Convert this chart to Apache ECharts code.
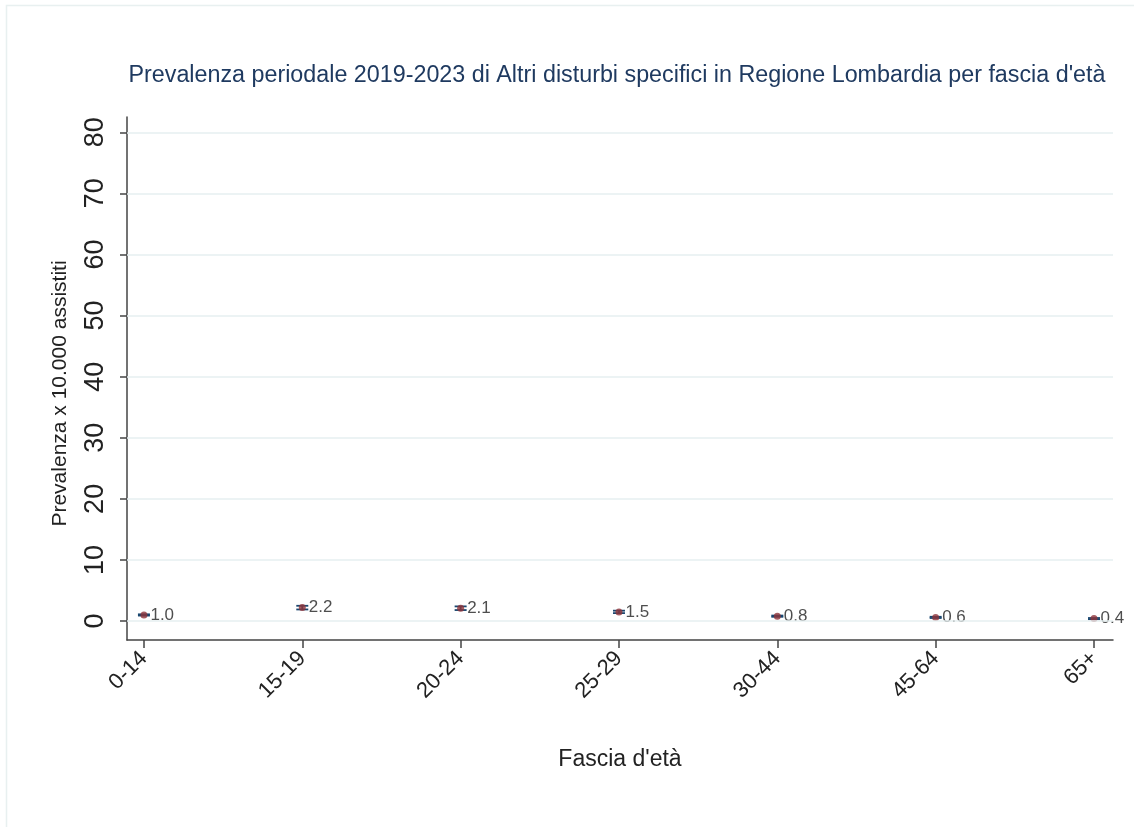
<!DOCTYPE html>
<html>
<head>
<meta charset="utf-8">
<script src="https://cdn.jsdelivr.net/npm/echarts@6/dist/echarts.min.js"></script>
<style>
  html, body { margin: 0; padding: 0; background: #fff; }
  #chart { width: 1134px; height: 827px; }
</style>
</head>
<body>
<div id="chart"></div>
<script>
const ageGroups = ['0-14', '15-19', '20-24', '25-29', '30-44', '45-64', '65+'];
const prevalence = [1.0, 2.2, 2.1, 1.5, 0.8, 0.6, 0.4];
const ciLow = [0.9, 1.9, 1.8, 1.3, 0.7, 0.5, 0.3];
const ciHigh = [1.1, 2.5, 2.4, 1.7, 0.9, 0.7, 0.5];
const yTicks = [0, 10, 20, 30, 40, 50, 60, 70, 80];

const navy = '#1a476f';
const maroon = '#90353b';
const textColor = '#222';

const chart = echarts.init(document.getElementById('chart'));

const points = prevalence.map((v, i) => [i + 1, v]);
const bars = prevalence.map((v, i) => [i + 1, ciLow[i], ciHigh[i]]);

const option = {
  backgroundColor: '#fff',
  animation: false,
  title: {
    text: "Prevalenza periodale 2019-2023 di Altri disturbi specifici in Regione Lombardia per fascia d'età",
    left: 612,
    top: 59,
    textAlign: 'center',
    textStyle: { fontFamily: 'Liberation Sans', fontSize: 23.3, fontWeight: 'normal', color: '#1f3a60' }
  },
  graphic: [{
    type: 'rect',
    shape: { x: 6.5, y: 5.5, width: 1140, height: 830 },
    style: { fill: 'none', stroke: '#e8f0f0', lineWidth: 1.5 },
    silent: true
  }],
  grid: { left: 127, right: 21, top: 117, bottom: 187 },
  xAxis: {
    type: 'value',
    min: 0.893,
    max: 7.12,
    name: "Fascia d'età",
    nameLocation: 'middle',
    nameGap: 108,
    nameTextStyle: { fontFamily: 'Liberation Sans', fontSize: 23, color: textColor },
    axisLine: { show: true, onZero: false, lineStyle: { color: '#444', width: 1.5 } },
    axisTick: { show: true, customValues: [1, 2, 3, 4, 5, 6, 7], length: 8, lineStyle: { color: '#444', width: 1.5 } },
    axisLabel: {
      customValues: [1, 2, 3, 4, 5, 6, 7],
      rotate: 45,
      margin: 15,
      fontFamily: 'Liberation Sans',
      fontSize: 22,
      color: textColor,
      formatter: v => ageGroups[Math.round(v) - 1] || ''
    },
    splitLine: { show: false }
  },
  yAxis: {
    type: 'value',
    min: -3.1,
    max: 82.5,
    name: 'Prevalenza x 10.000 assistiti',
    nameLocation: 'middle',
    nameGap: 56,
    nameTextStyle: { fontFamily: 'Liberation Sans', fontSize: 21, color: textColor, padding: [0, 30, 0, 0] },
    axisLine: { show: true, onZero: false, lineStyle: { color: '#444', width: 1.5 } },
    axisTick: { show: true, customValues: yTicks, length: 7, lineStyle: { color: '#444', width: 1.5 } },
    axisLabel: {
      customValues: yTicks,
      rotate: 90,
      margin: 18,
      fontFamily: 'Liberation Sans',
      fontSize: 27,
      color: textColor
    },
    splitLine: { show: false }
  },
  series: [
    {
      type: 'line',
      data: [],
      markLine: {
        silent: true,
        symbol: 'none',
        label: { show: false },
        lineStyle: { color: '#e6eff1', type: 'solid', width: 1.5 },
        data: yTicks.map(t => ({ yAxis: t }))
      }
    },
    {
      type: 'custom',
      data: bars,
      z: 3,
      renderItem: (params, api) => {
        const x = api.value(0);
        const lo = api.coord([x, api.value(1)]);
        const hi = api.coord([x, api.value(2)]);
        const w = 6;
        const style = { stroke: navy, lineWidth: 1.8 };
        return {
          type: 'group',
          children: [
            { type: 'line', shape: { x1: lo[0], y1: lo[1], x2: hi[0], y2: hi[1] }, style },
            { type: 'line', shape: { x1: lo[0] - w, y1: lo[1], x2: lo[0] + w, y2: lo[1] }, style },
            { type: 'line', shape: { x1: hi[0] - w, y1: hi[1], x2: hi[0] + w, y2: hi[1] }, style }
          ]
        };
      }
    },
    {
      type: 'scatter',
      data: points,
      z: 4,
      symbol: 'circle',
      symbolSize: 7,
      itemStyle: { color: maroon },
      label: {
        show: true,
        position: 'right',
        distance: 3,
        fontFamily: 'Liberation Sans',
        fontSize: 17,
        color: '#222',
        formatter: p => p.value[1].toFixed(1)
      }
    }
  ]
};

chart.setOption(option);
</script>
</body>
</html>
